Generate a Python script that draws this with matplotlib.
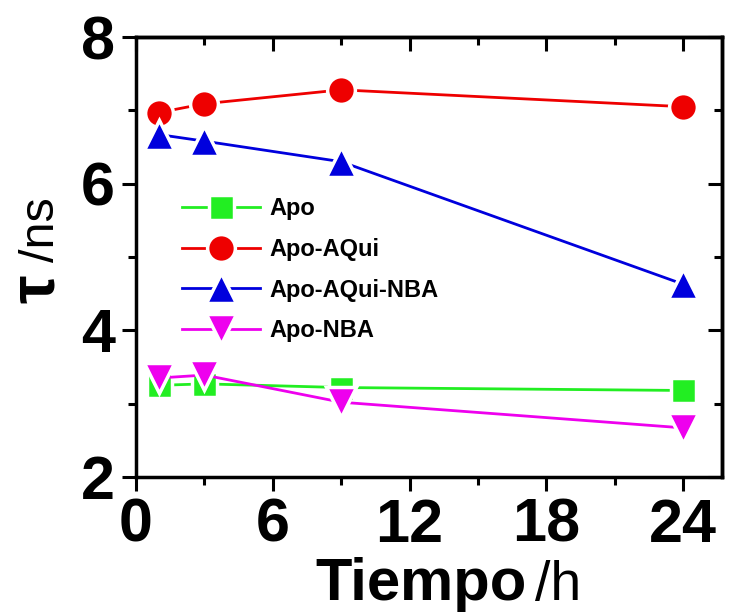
import matplotlib
matplotlib.use("Agg")
import matplotlib.pyplot as plt
from matplotlib.ticker import MultipleLocator
from matplotlib import font_manager as fm

# Data
time_h = [1, 3, 9, 24]
apo = [3.25, 3.27, 3.22, 3.18]
apo_aqui = [6.97, 7.09, 7.28, 7.05]
apo_aqui_nba = [6.67, 6.58, 6.30, 4.63]
apo_nba = [3.35, 3.39, 3.02, 2.67]

series_names = ["Apo", "Apo-AQui", "Apo-AQui-NBA", "Apo-NBA"]
xticks = [0, 6, 12, 18, 24]
yticks = [2, 4, 6, 8]

available = {f.name for f in fm.fontManager.ttflist}
family = "Liberation Sans Narrow" if "Liberation Sans Narrow" in available else "Liberation Sans"
plt.rcParams["font.family"] = [family, "DejaVu Sans"]

fig = plt.figure(figsize=(7.29, 6.12), dpi=100)
ax = fig.add_axes([0.1866, 0.2206, 0.8034, 0.7189])

styles = [
    (apo, "#22ee22", "s", 18),
    (apo_aqui, "#ee0000", "o", 20),
    (apo_aqui_nba, "#0000dd", "^", 22),
    (apo_nba, "#ee00ee", "v", 22),
]
for (vals, col, mk, ms), name in zip(styles, series_names):
    ax.plot(time_h, vals, color=col, lw=2, marker=mk, ms=ms,
            markerfacecolor=col, markeredgecolor="white", markeredgewidth=2.5,
            label=name, clip_on=False, zorder=3)

ax.set_xlim(0, 25.7)
ax.set_ylim(2, 8)
ax.set_xticks(xticks)
ax.set_yticks(yticks)
ax.xaxis.set_minor_locator(MultipleLocator(3))
ax.yaxis.set_minor_locator(MultipleLocator(1))

for s in ax.spines.values():
    s.set_linewidth(2.5)

ax.tick_params(which="both", width=2.2)
ax.tick_params(axis="both", which="major", length=10, labelsize=44, pad=5)
ax.tick_params(axis="both", which="minor", length=6)
ax.tick_params(axis="x", which="both", direction="out", top=False)
ax.tick_params(axis="y", which="both", direction="out", right=False)
for lab in ax.get_xticklabels() + ax.get_yticklabels():
    lab.set_fontweight("bold")

# inward ticks on the opposite spines
sec_x = ax.secondary_xaxis("top")
sec_x.set_xticks(xticks)
sec_x.xaxis.set_minor_locator(MultipleLocator(3))
sec_x.tick_params(which="both", direction="in", width=2.2, labeltop=False)
sec_x.tick_params(which="major", length=10)
sec_x.tick_params(which="minor", length=6)
sec_x.spines["top"].set_linewidth(2.5)
sec_y = ax.secondary_yaxis("right")
sec_y.set_yticks(yticks)
sec_y.yaxis.set_minor_locator(MultipleLocator(1))
sec_y.tick_params(which="both", direction="in", width=2.2, labelright=False)
sec_y.tick_params(which="major", length=10)
sec_y.tick_params(which="minor", length=6)
sec_y.spines["right"].set_linewidth(2.5)

leg = ax.legend(loc="upper left", bbox_to_anchor=(0.078, 0.636), frameon=False,
                prop={"weight": "bold", "size": 17}, handlelength=3.3,
                handletextpad=0.4, labelspacing=0.75, borderaxespad=0,
                borderpad=0, markerscale=1.0)

# Axis titles with bold quantity and regular unit
fig.text(315 / 729, 0.02, "Tiempo", fontsize=43, fontweight="bold", ha="left", va="baseline")
fig.text(535 / 729, 0.02, "/h", fontsize=40, ha="left", va="baseline")

fig.text(54 / 729, (612 - 303) / 612, "\u03c4", fontsize=46, fontweight="bold", rotation=90,
         rotation_mode="anchor", ha="left", va="baseline")
fig.text(54 / 729, (612 - 262) / 612, "/ns", fontsize=35, rotation=90,
         rotation_mode="anchor", ha="left", va="baseline")

fig.savefig("out.png", dpi=100)
